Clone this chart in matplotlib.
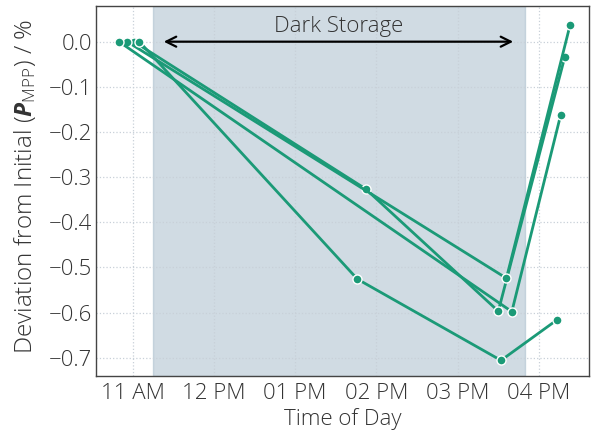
import numpy as np
import pandas as pd
import matplotlib
matplotlib.use('Agg')
import matplotlib.pyplot as plt
import matplotlib.dates as mdates
from matplotlib.ticker import FuncFormatter

DAY = '2021-06-15 '

# four modules, measured before / during / after dark storage
times_a = ['11:01', '13:52', '15:30', '16:19']
dev_a = [0.0, -0.326, -0.597, -0.035]
times_b = ['10:56', '15:36', '16:23']
dev_b = [0.0, -0.524, 0.037]
times_c = ['10:50', '15:40', '16:16']
dev_c = [0.0, -0.598, -0.163]
times_d = ['11:05', '13:46', '15:32', '16:13']
dev_d = [0.0, -0.526, -0.706, -0.617]

dark_start, dark_end = '11:15', '15:50'
arrow_start, arrow_end = '11:23', '15:41'

def t(s):
    return pd.Timestamp(DAY + s)

plt.rcParams['font.family'] = ['Open Sans', 'DejaVu Sans']
plt.rcParams['font.weight'] = 300
plt.rcParams['axes.labelweight'] = 300
plt.rcParams['mathtext.fontset'] = 'custom'
plt.rcParams['mathtext.rm'] = 'Open Sans:light'
plt.rcParams['mathtext.it'] = 'Open Sans:italic'
plt.rcParams['mathtext.bf'] = 'Open Sans:bold'
plt.rcParams['mathtext.bfit'] = 'Open Sans:bold:italic'

fig = plt.figure(figsize=(5.92, 4.36), dpi=100)
ax = fig.add_axes([0.1622, 0.1376, 0.8328, 0.8486])

green = '#1b9a77'
txt = '#333333'
ax.axvspan(t(dark_start), t(dark_end), color='#a3b9c9', alpha=0.5, lw=1, zorder=0.3)

for tt, dd in [(times_a, dev_a), (times_b, dev_b), (times_c, dev_c), (times_d, dev_d)]:
    ax.plot([t(s) for s in tt], dd, '-o', color=green, lw=2.0, ms=6.5,
            mec='white', mew=1.0, zorder=3)

ax.annotate('', xy=(t(arrow_end), 0.0), xytext=(t(arrow_start), 0.0),
            arrowprops=dict(arrowstyle='<->', color='black', lw=1.6,
                            mutation_scale=18, shrinkA=0, shrinkB=0), zorder=4)
mid = t(arrow_start) + (t(arrow_end) - t(arrow_start)) / 2
ax.text(mid, 0.022, 'Dark Storage', ha='center', va='baseline', fontsize=16, color=txt)

ax.set_xlim(t('10:33'), t('16:37'))
ax.set_ylim(-0.7406, 0.079)
ax.xaxis.set_major_locator(mdates.HourLocator())
ax.xaxis.set_major_formatter(mdates.DateFormatter('%I %p'))
ax.set_yticks(np.arange(0, -0.75, -0.1))
ax.yaxis.set_major_formatter(FuncFormatter(lambda v, p: ('%.1f' % v).replace('-', '\u2212')))

ax.grid(True, color='#c8d0d8', ls=':', lw=0.9, zorder=0.5)
ax.set_axisbelow(True)
ax.tick_params(length=0, labelsize=16, colors=txt)
ax.tick_params(axis='x', pad=5)
ax.tick_params(axis='y', pad=3)
for sp in ax.spines.values():
    sp.set_color('#444444')
    sp.set_linewidth(1.0)

ax.set_xlabel('Time of Day', fontsize=16, color=txt, labelpad=3)
ax.set_ylabel(r'Deviation from Initial ($\boldsymbol{P}_{\mathrm{MPP}}$) / %', fontsize=17.5,
              color=txt)
ax.yaxis.set_label_coords(-0.118, 0.512)

fig.savefig('out.png', dpi=100)
